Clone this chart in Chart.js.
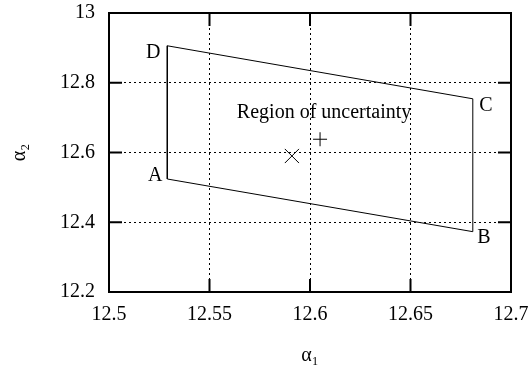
<!DOCTYPE html>
<html>
<head>
<meta charset="utf-8">
<script src="https://cdn.jsdelivr.net/npm/chart.js@4/dist/chart.umd.min.js"></script>
<style>
    html, body { margin: 0; padding: 0; background: #fff; }
    #wrap { width: 528px; height: 374px; }
</style>
</head>
<body>
<div id="wrap"><canvas id="chart"></canvas></div>
<script>
// corners of the region, in order A, B, C, D
const cornerNames = ['A', 'B', 'C', 'D'];
const cornerA1 = [12.529, 12.681, 12.681, 12.529];
const cornerA2 = [12.524, 12.373, 12.754, 12.906];

// the two estimates
const crossPoint = [{ x: 12.591, y: 12.590 }];
const plusPoint = [{ x: 12.605, y: 12.638 }];

const regionText = 'Region of uncertainty';
const regionPos = { x: 12.607, y: 12.713 };

const xTicks = [12.5, 12.55, 12.6, 12.65, 12.7];
const yTicks = [12.2, 12.4, 12.6, 12.8, 13];

const serif = 'Liberation Serif, Times New Roman, serif';

// label offsets in px from each corner
const cornerOffsets = { A: [-12, -3], B: [11, 6], C: [13, 7], D: [-14, 7] };

const polygon = cornerA1.map((x, i) => ({ x, y: cornerA2[i] }));
polygon.push({ x: cornerA1[0], y: cornerA2[0] });

const framePlugin = {
    id: 'frame',
    afterDraw(chart) {
        const { ctx, chartArea: a, scales } = chart;
        ctx.save();
        ctx.strokeStyle = '#000';
        ctx.lineWidth = 2;
        // inward ticks on all four sides
        ctx.beginPath();
        xTicks.forEach(v => {
            const px = scales.x.getPixelForValue(v);
            ctx.moveTo(px, a.bottom); ctx.lineTo(px, a.bottom - 13);
            ctx.moveTo(px, a.top); ctx.lineTo(px, a.top + 13);
        });
        yTicks.forEach(v => {
            const py = scales.y.getPixelForValue(v);
            ctx.moveTo(a.left, py); ctx.lineTo(a.left + 13, py);
            ctx.moveTo(a.right, py); ctx.lineTo(a.right - 13, py);
        });
        ctx.stroke();
        ctx.strokeRect(a.left, a.top, a.right - a.left, a.bottom - a.top);

        // corner letters and region caption
        ctx.fillStyle = '#000';
        ctx.font = '20px ' + serif;
        ctx.textAlign = 'center';
        ctx.textBaseline = 'middle';
        cornerNames.forEach((n, i) => {
            const px = scales.x.getPixelForValue(cornerA1[i]);
            const py = scales.y.getPixelForValue(cornerA2[i]);
            ctx.fillText(n, px + cornerOffsets[n][0], py + cornerOffsets[n][1]);
        });
        ctx.fillText(regionText, scales.x.getPixelForValue(regionPos.x), scales.y.getPixelForValue(regionPos.y));
        ctx.restore();
    }
};

new Chart(document.getElementById('chart'), {
    type: 'scatter',
    data: {
        datasets: [
            {
                data: polygon, showLine: true, borderColor: '#000', borderWidth: 1,
                pointRadius: 0, tension: 0
            },
            {
                data: crossPoint, pointStyle: 'crossRot', pointRadius: 10,
                borderColor: '#000', borderWidth: 1
            },
            {
                data: plusPoint, pointStyle: 'cross', pointRadius: 7,
                borderColor: '#000', borderWidth: 1
            }
        ]
    },
    options: {
        responsive: true, maintainAspectRatio: false, animation: false,
        layout: { padding: { left: 0, right: 17, top: 13, bottom: 0 } },
        plugins: { legend: { display: false }, tooltip: { enabled: false } },
        scales: {
            x: {
                type: 'linear', min: 12.5, max: 12.7,
                afterBuildTicks: s => { s.ticks = xTicks.map(v => ({ value: v })); },
                afterFit: s => { s.height = 82; s.paddingLeft = 0; s.paddingRight = 0; },
                ticks: {
                    autoSkip: false, maxRotation: 0, padding: 11, color: '#000',
                    font: { family: serif, size: 20 },
                    callback: v => String(+v.toFixed(2))
                },
                grid: { color: '#000', lineWidth: 1, drawTicks: false },
                border: { display: false, dash: [2, 3] },
                title: {
                    display: true, text: 'α₁', color: '#000',
                    font: { family: serif, size: 20 }, padding: { top: 0, bottom: 6 }
                }
            },
            y: {
                type: 'linear', min: 12.2, max: 13,
                afterBuildTicks: s => { s.ticks = yTicks.map(v => ({ value: v })); },
                afterFit: s => { s.width = 109; s.paddingTop = 0; s.paddingBottom = 0; },
                ticks: {
                    autoSkip: false, padding: 14, color: '#000',
                    font: { family: serif, size: 20 },
                    callback: v => String(+v.toFixed(1))
                },
                grid: { color: '#000', lineWidth: 1, drawTicks: false },
                border: { display: false, dash: [2, 3] },
                title: {
                    display: true, text: 'α₂', color: '#000',
                    font: { family: serif, size: 20 }, padding: { top: 8, bottom: 0 }
                }
            }
        }
    },
    plugins: [framePlugin]
});
</script>
</body>
</html>
